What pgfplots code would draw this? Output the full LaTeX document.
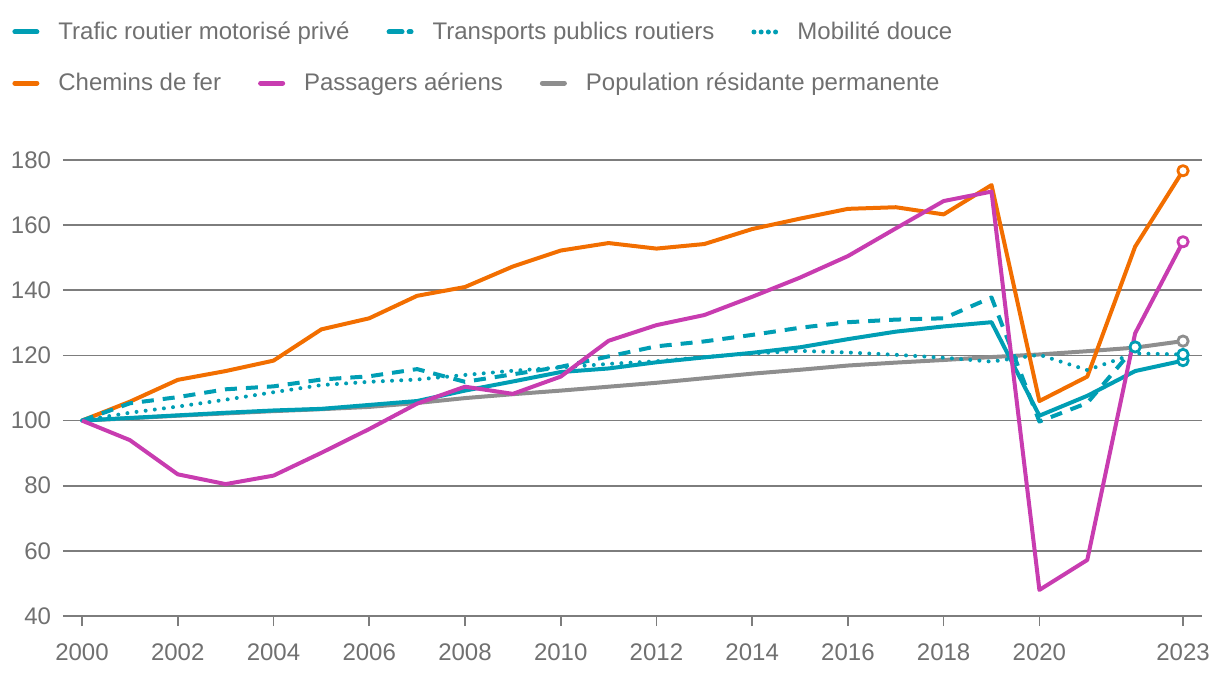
\documentclass[border=0pt]{standalone}
\usepackage{fontspec}
\setmainfont{Liberation Sans}
\usepackage{pgfplots}
\pgfplotsset{compat=1.18}

\definecolor{cteal}{RGB}{0,158,180}
\definecolor{corange}{RGB}{242,110,0}
\definecolor{cmagenta}{RGB}{200,60,176}
\definecolor{cgray}{RGB}{142,142,142}
\definecolor{cgrid}{RGB}{125,125,125}
\definecolor{ctext}{RGB}{112,112,112}

\pgfplotsset{
  serie/.style={line width=2pt, line join=round},
  endmark/.style={mark=*, mark size=2.6pt, mark options={solid, fill=white, line width=1.4pt}},
  legendaxis/.style={
    anchor=south west, at={(31.5pt,30pt)},
    width=569.5pt, height=228pt, scale only axis,
    xmin=0, xmax=1, ymin=0, ymax=1, hide axis,
    legend cell align=left,
    legend image code/.code={\draw[##1, line width=2.5pt] (1.25pt,0pt) -- (12.25pt,0pt);},
    legend style={draw=none, fill=none, inner sep=0pt, anchor=west,
      font=\fontsize{12}{14}\selectfont, text=ctext,
      nodes={inner sep=0pt},
      /tikz/every odd column/.append style={column sep=9.5pt},
      /tikz/every even column/.append style={column sep=18.5pt}},
  },
}

\begin{document}
\begin{tikzpicture}
\useasboundingbox (0,0) rectangle (610pt,338pt);

\begin{axis}[
  anchor=south west, at={(31.5pt,30pt)},
  width=569.5pt, height=228pt, scale only axis,
  xmin=1999.603, xmax=2023.397,
  ymin=40, ymax=180,
  axis line style={draw=none},
  xtick={2000,2002,2004,2006,2008,2010,2012,2014,2016,2018,2020,2023},
  ytick={40,60,80,100,120,140,160,180},
  xtick pos=bottom, ytick pos=left,
  ymajorgrids, major grid style={cgrid, line width=0.8pt},
  tick align=outside, major tick length=5pt,
  xtick style={cgrid, line width=0.8pt},
  ytick style={draw=none},
  tick label style={font=\fontsize{12}{14}\selectfont, text=ctext,
    /pgf/number format/assume math mode=true,
    /pgf/number format/1000 sep={}},
  xticklabel style={yshift=-5.5pt},
  yticklabel style={xshift=2.5pt},
]
% Population residante permanente
\addplot[serie, cgray, endmark, mark indices={24}] coordinates {
(2000,100) (2001,100.7) (2002,101.5) (2003,102.2) (2004,102.9) (2005,103.5)
(2006,104.2) (2007,105.4) (2008,106.9) (2009,108.1) (2010,109.2) (2011,110.4)
(2012,111.6) (2013,113.0) (2014,114.4) (2015,115.6) (2016,116.9) (2017,117.8)
(2018,118.6) (2019,119.5) (2020,120.3) (2021,121.3) (2022,122.4) (2023,124.4)};
% Chemins de fer
\addplot[serie, corange, endmark, mark indices={24}] coordinates {
(2000,100) (2001,105.8) (2002,112.5) (2003,115.2) (2004,118.4) (2005,128.0)
(2006,131.4) (2007,138.3) (2008,141.0) (2009,147.3) (2010,152.2) (2011,154.5)
(2012,152.8) (2013,154.2) (2014,158.8) (2015,162.0) (2016,165.0) (2017,165.5)
(2018,163.3) (2019,172.3) (2020,106.0) (2021,113.5) (2022,153.4) (2023,176.7)};
% Trafic routier motorise prive
\addplot[serie, cteal, endmark, mark indices={24}] coordinates {
(2000,100) (2001,100.8) (2002,101.6) (2003,102.4) (2004,103.1) (2005,103.6)
(2006,104.8) (2007,106.0) (2008,109.2) (2009,112.0) (2010,114.9) (2011,116.0)
(2012,117.9) (2013,119.4) (2014,120.8) (2015,122.5) (2016,125.0) (2017,127.3)
(2018,128.9) (2019,130.2) (2020,101.5) (2021,107.6) (2022,115.2) (2023,118.4)};
% Transports publics routiers
\addplot[serie, cteal, dash pattern=on 6pt off 4.5pt, endmark, mark indices={23}] coordinates {
(2000,100) (2001,105.3) (2002,107.2) (2003,109.6) (2004,110.5) (2005,112.6)
(2006,113.6) (2007,115.8) (2008,111.9) (2009,114.2) (2010,116.5) (2011,119.7)
(2012,122.8) (2013,124.3) (2014,126.3) (2015,128.5) (2016,130.2) (2017,131.0)
(2018,131.4) (2019,137.8) (2020,99.7) (2021,105.4) (2022,122.6)};
% Mobilite douce
\addplot[serie, cteal, line cap=round, dash pattern=on 0pt off 4.6pt, endmark, mark indices={24}] coordinates {
(2000,100) (2001,102.4) (2002,104.3) (2003,106.4) (2004,108.7) (2005,110.9)
(2006,111.9) (2007,112.6) (2008,114.0) (2009,115.3) (2010,116.3) (2011,117.4)
(2012,118.2) (2013,119.5) (2014,120.6) (2015,121.4) (2016,120.9) (2017,120.2)
(2018,119.3) (2019,118.1) (2020,120.2) (2021,115.5) (2022,120.6) (2023,120.3)};
% Passagers aeriens
\addplot[serie, cmagenta, endmark, mark indices={24}] coordinates {
(2000,100) (2001,94.0) (2002,83.5) (2003,80.5) (2004,83.1) (2005,90.1)
(2006,97.4) (2007,105.2) (2008,110.4) (2009,108.2) (2010,113.5) (2011,124.5)
(2012,129.3) (2013,132.4) (2014,138.0) (2015,143.9) (2016,150.5) (2017,159.0)
(2018,167.4) (2019,170.3) (2020,48.0) (2021,57.2) (2022,126.8) (2023,154.9)};
\end{axis}

% legend, first row
\begin{axis}[legendaxis, legend columns=3,
  legend style={at={(-0.04478,1.2807)}}]
\addlegendimage{cteal, line cap=round}
\addlegendimage{cteal, line cap=round, dash pattern=on 6.5pt off 3.5pt}
\addlegendimage{cteal, line cap=round, dash pattern=on 0pt off 3.6pt}
\legend{Trafic routier motorisé privé, Transports publics routiers, Mobilité douce}
\end{axis}

% legend, second row
\begin{axis}[legendaxis, legend columns=3,
  legend style={at={(-0.04478,1.1688)}}]
\addlegendimage{corange, line cap=round}
\addlegendimage{cmagenta, line cap=round}
\addlegendimage{cgray, line cap=round}
\legend{Chemins de fer, Passagers aériens, Population résidante permanente}
\end{axis}
\end{tikzpicture}
\end{document}
